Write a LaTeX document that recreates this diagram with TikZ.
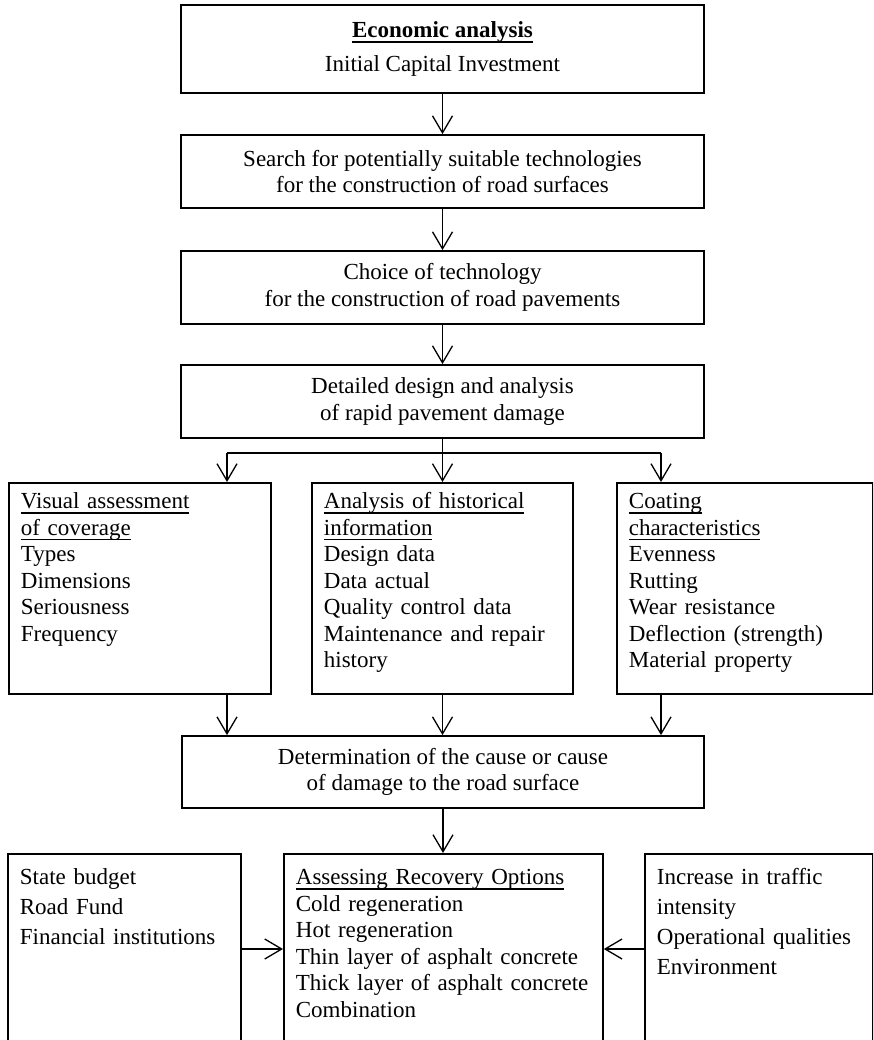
\documentclass[tikz,border=0pt]{standalone}
\usepackage{fontspec}
\setmainfont{Liberation Serif}
\usetikzlibrary{arrows.meta}

% underlined heading line
\newcommand{\hd}[1]{\leavevmode\setbox0=\hbox{#1}\rlap{\usebox0}\rule[-5pt]{\wd0}{1.5pt}}
\newcommand{\bodyfont}{\fontsize{23}{26.5}\selectfont}
\newcommand{\sidefont}{\fontsize{23}{30}\selectfont}

\begin{document}
\begin{tikzpicture}[x=1pt,y=-1pt,
  stage/.style={draw,line width=1.8pt,minimum width=523pt,minimum height=73pt,inner sep=0pt,align=center,font=\bodyfont},
  card/.style={draw,line width=1.8pt,anchor=north west,align=left,inner xsep=12pt,inner ysep=0pt,font=\bodyfont},
  link/.style={-{Straight Barb[length=17pt,width=20pt]},line width=1.3pt}]
\clip (0,0) rectangle (873,1040);

% stages down the middle
\node[stage,minimum height=88pt,font=\fontsize{23}{34}\selectfont] (econ) at (442.5,49) {\hd{\textbf{Economic analysis}}\\Initial Capital Investment};
\node[stage] (search) at (442.5,171.5) {Search for potentially suitable technologies\\for the construction of road surfaces};
\node[stage] (choice) at (442.5,287.5) {Choice of technology\\for the construction of road pavements};
\node[stage] (design) at (442.5,401.5) {Detailed design and analysis\\of rapid pavement damage};

% three survey cards
\node[card,text width=238pt,text height=26pt,text depth=185pt] (visual) at (8,482) {\hd{Visual assessment}\\\hd{of coverage}\\Types\\Dimensions\\Seriousness\\Frequency};
\node[card,text width=237pt,text height=26pt,text depth=185pt] (hist) at (311,482) {\hd{Analysis of historical}\\\hd{information}\\Design data\\Data actual\\Quality control data\\Maintenance and repair\\history};
\node[card,text width=232pt,text height=26pt,text depth=185pt] (coat) at (616,482) {\hd{Coating}\\\hd{characteristics}\\Evenness\\Rutting\\Wear resistance\\Deflection (strength)\\Material property};

\node[stage,minimum width=522pt,minimum height=72pt] (cause) at (443,772) {Determination of the cause or cause\\of damage to the road surface};

% bottom row, open at the foot
\node[card,font=\sidefont,text width=209pt,text height=31pt,text depth=180pt] (funds) at (7,853) {State budget\\Road Fund\\Financial institutions};
\node[card,text width=295pt,text height=31pt,text depth=180pt] (repair) at (283,853) {\hd{Assessing Recovery Options}\\Cold regeneration\\Hot regeneration\\Thin layer of asphalt concrete\\Thick layer of asphalt concrete\\Combination};
\node[card,font=\sidefont,text width=204pt,text height=31pt,text depth=180pt] (demand) at (644,853) {Increase in traffic\\intensity\\Operational qualities\\Environment};

% connectors
\draw[link] (econ) -- (search);
\draw[link] (search) -- (choice);
\draw[link] (choice) -- (design);
\coordinate (fork) at (442.5,453);
\coordinate (forkL) at (227,453);
\coordinate (forkR) at (661,453);
\draw[line width=1.3pt] (design) -- (fork);
\draw[line width=1.3pt] (forkL) -- (forkR);
\draw[link] (forkL) -- (forkL |- visual.north);
\draw[link] (fork) -- (fork |- hist.north);
\draw[link] (forkR) -- (forkR |- coat.north);
\draw[link] (forkL |- visual.south) -- (forkL |- cause.north);
\draw[link] (fork |- hist.south) -- (fork |- cause.north);
\draw[link] (forkR |- coat.south) -- (forkR |- cause.north);
\draw[link] (cause) -- (cause |- repair.north);
\coordinate (side) at (442.5,949);
\draw[link] (funds.east |- side) -- (repair.west |- side);
\draw[link] (demand.west |- side) -- (repair.east |- side);
\end{tikzpicture}
\end{document}
